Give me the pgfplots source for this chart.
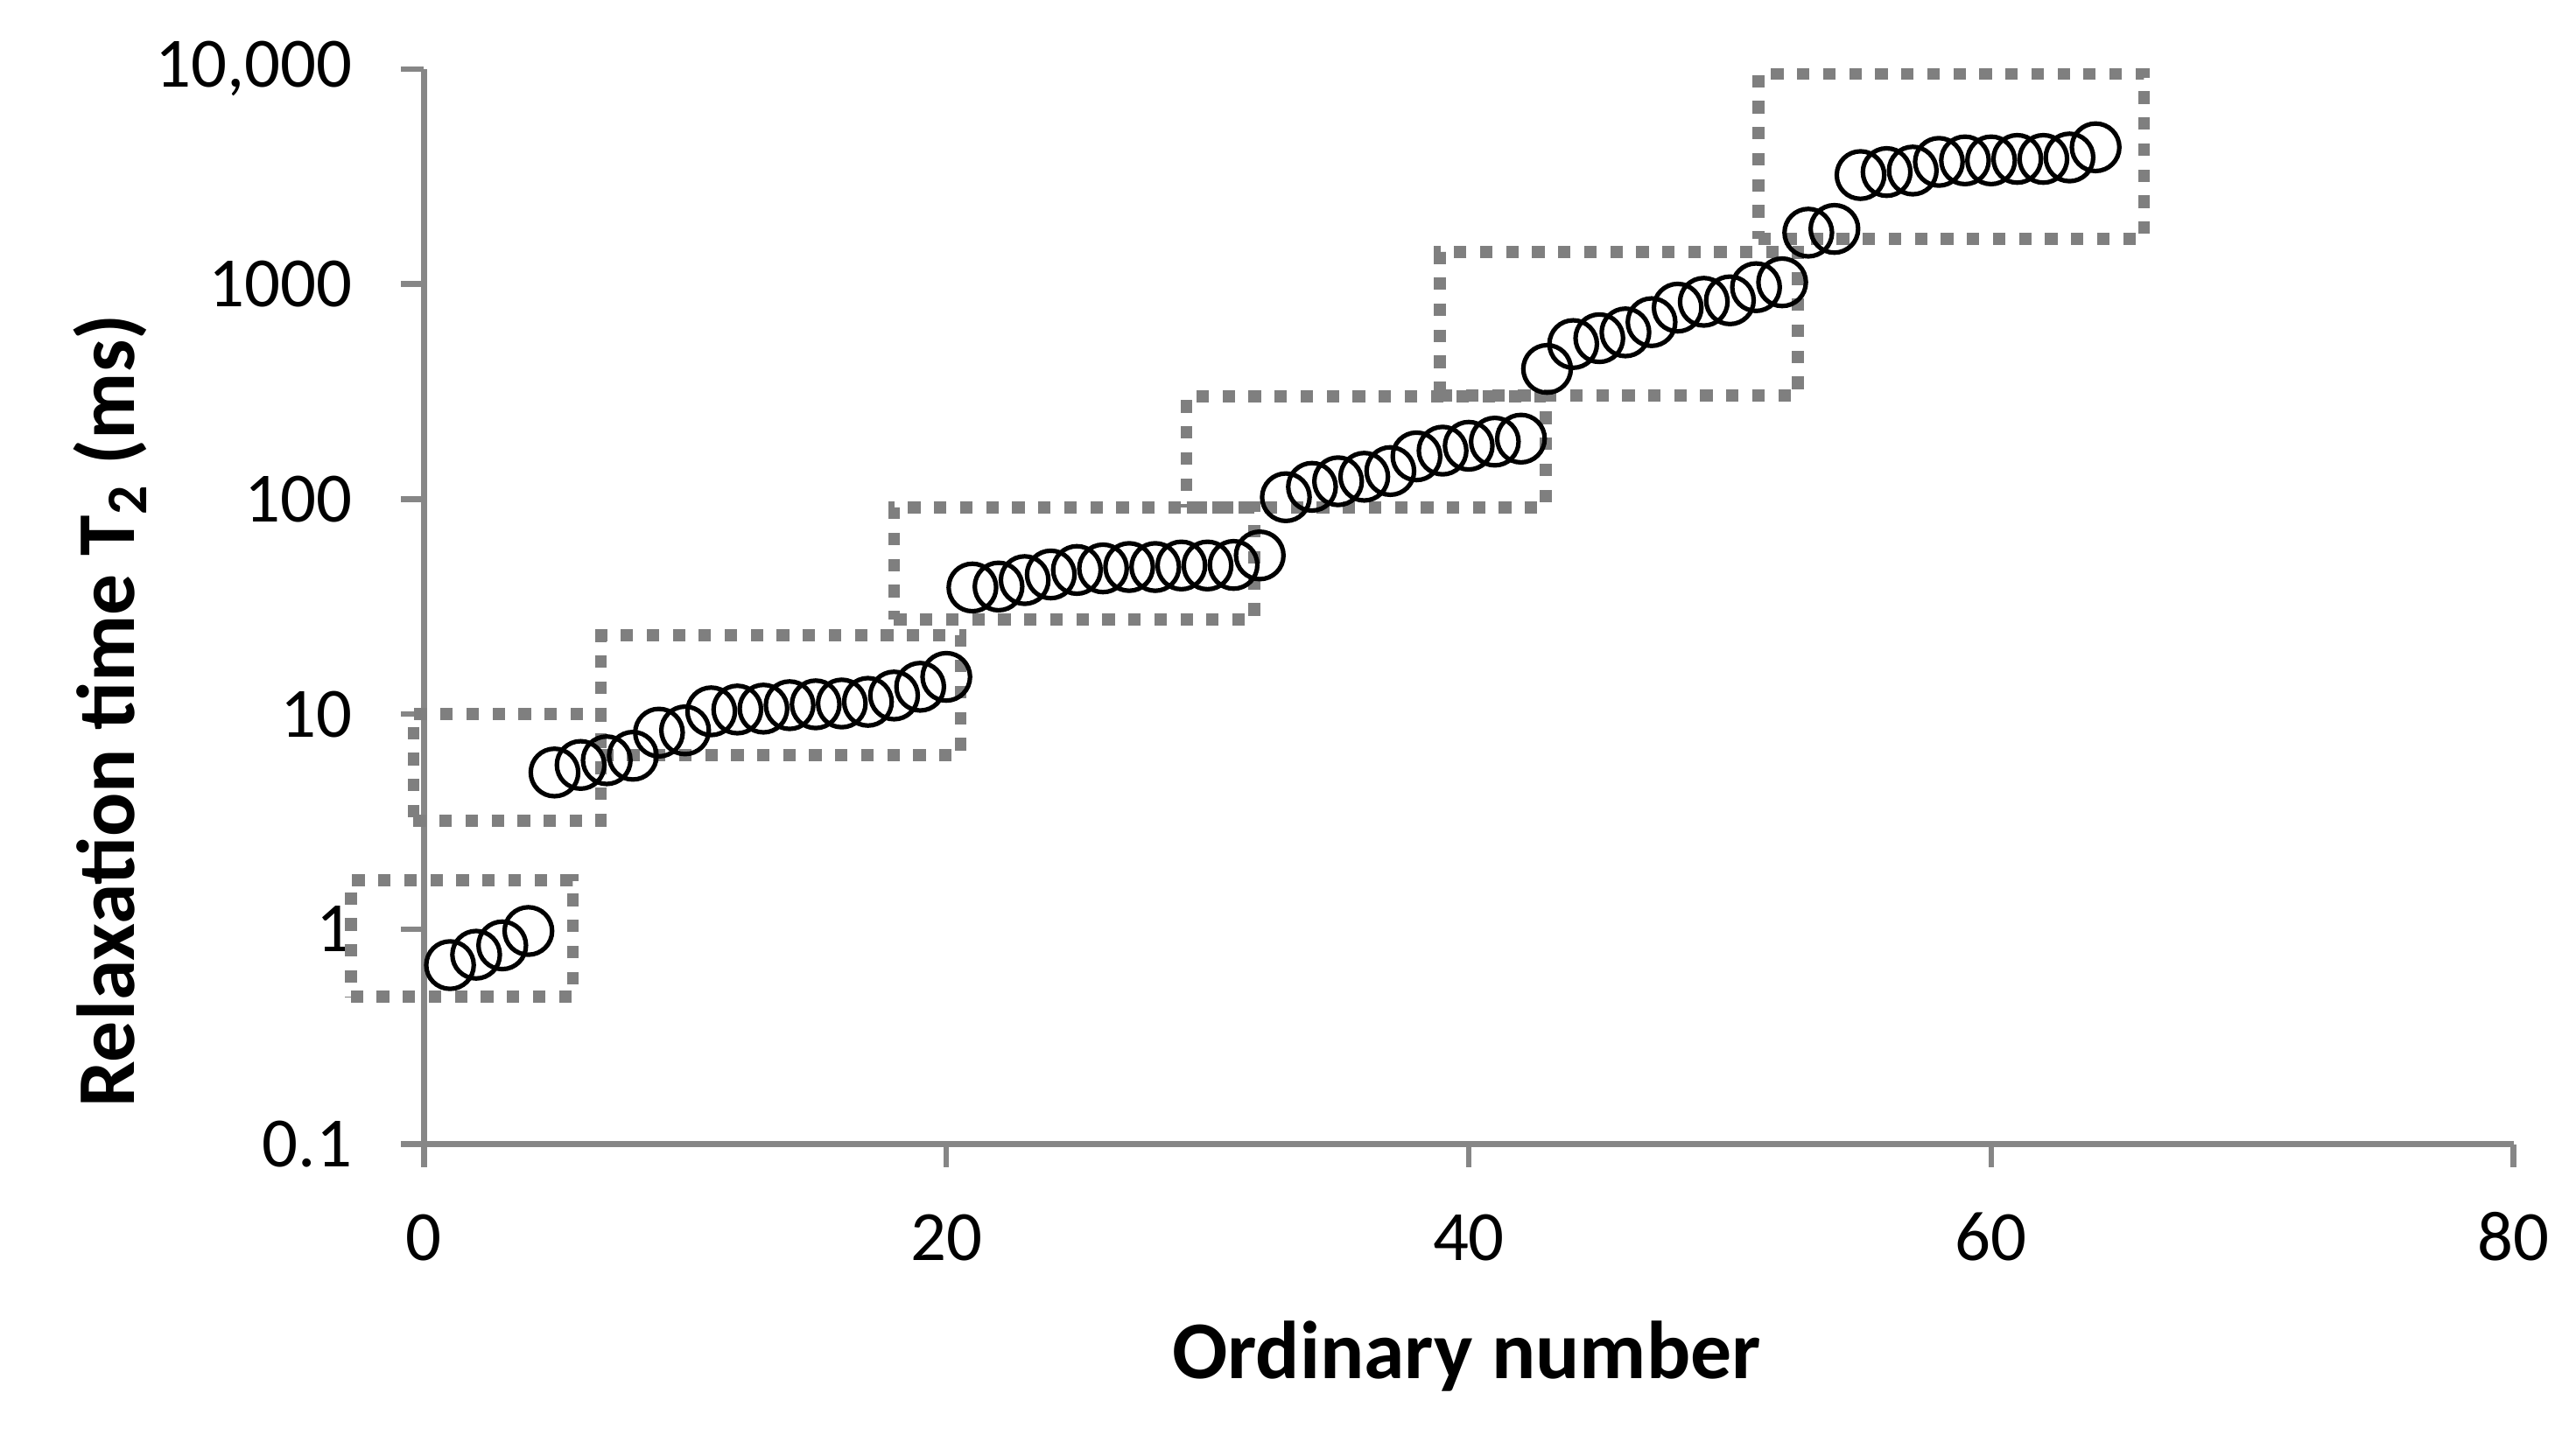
\documentclass[border=0pt]{standalone}
\usepackage{pgfplots}
\pgfplotsset{compat=1.18}
\usepackage{pgfplotstable}
\usepackage{fontspec}
\setmainfont{Carlito}
\definecolor{axgray}{HTML}{868686}
\definecolor{boxgray}{HTML}{7F7F7F}
\pgfplotstableread{
x y
1 0.68
2 0.76
3 0.84
4 0.98
5 5.35
6 5.8
7 6.1
8 6.4
9 8.2
10 8.4
11 10.3
12 10.5
13 10.6
14 11.0
15 11.1
16 11.2
17 11.4
18 12.2
19 13.4
20 14.9
21 38.8
22 39.2
23 42
24 44.6
25 46.8
26 47.6
27 48.3
28 48.3
29 49.1
30 49.1
31 49.4
32 54.7
33 102
34 114
35 121
36 127
37 135
38 158
39 168
40 177
41 185
42 191
43 403
44 526
45 560
46 596
47 665
48 777
49 827
50 840
51 967
52 1019
53 1734
54 1805
55 3213
56 3318
57 3372
58 3700
59 3760
60 3760
61 3820
62 3820
63 3880
64 4326
}\datatable
\begin{document}
\begin{tikzpicture}
\begin{axis}[
  width=12.98cm, height=6.68cm, scale only axis,
  xmin=0, xmax=80, ymode=log, ymin=0.1, ymax=10000,
  axis x line*=bottom, axis y line*=left,
  axis line style={axgray, line width=1pt, -},
  tick style={axgray, line width=1pt},
  major tick length=0.143cm,
  tick align=outside,
  yminorticks=false,
  xtick={0,20,40,60,80}, xticklabels={0,20,40,60,80},
  ytick={0.1,1,10,100,1000,10000}, yticklabels={0.1,1,10,100,1000,{10,000}},
  /pgf/number format/assume math mode=true,
  tick label style={font=\fontsize{12.5}{14}\selectfont, black},
  xticklabel style={anchor=base, inner sep=0pt, yshift=-0.58cm},
  yticklabel style={anchor=east, inner sep=0pt, xshift=-0.296cm},
  xlabel={Ordinary number},
  ylabel={Relaxation time T\textsubscript{2} (ms)},
  xlabel style={at={(axis description cs:0.499,0)}, anchor=base, yshift=-1.459cm, font=\bfseries\fontsize{14.5}{17}\selectfont},
  ylabel style={at={(axis description cs:-0.150,0.403)}, anchor=center, font=\bfseries\fontsize{14.5}{17}\selectfont},
  clip=false,
]
\addplot[only marks, mark=o, mark size=4.2pt, mark options={black, line width=0.8pt}] table[x=x,y=y] {\datatable};
\pgfplotsset{boxstyle/.style={boxgray, line width=2.1pt, dash pattern=on 2.2pt off 2.4pt, no marks, sharp plot}}
\addplot[boxstyle] coordinates {(-2.8,0.486) (5.7,0.486) (5.7,1.69) (-2.8,1.69) (-2.8,0.486)};
\addplot[boxstyle] coordinates {(-0.4,3.19) (6.78,3.19) (6.78,10) (-0.4,10) (-0.4,3.19)};
\addplot[boxstyle] coordinates {(6.78,6.45) (20.55,6.45) (20.55,23.2) (6.78,23.2) (6.78,6.45)};
\addplot[boxstyle] coordinates {(18.0,27.5) (31.8,27.5) (31.8,91.6) (18.0,91.6) (18.0,27.5)};
\addplot[boxstyle] coordinates {(29.2,91.6) (42.95,91.6) (42.95,300) (29.2,300) (29.2,91.6)};
\addplot[boxstyle] coordinates {(38.9,303) (52.6,303) (52.6,1410) (38.9,1410) (38.9,303)};
\addplot[boxstyle] coordinates {(51.1,1619) (65.85,1619) (65.85,9500) (51.1,9500) (51.1,1619)};
\end{axis}
\path (current axis.south west) ++(-2.633cm,-1.806cm) rectangle ([xshift=0.388cm,yshift=0.429cm]current axis.north east);
\end{tikzpicture}
\end{document}
